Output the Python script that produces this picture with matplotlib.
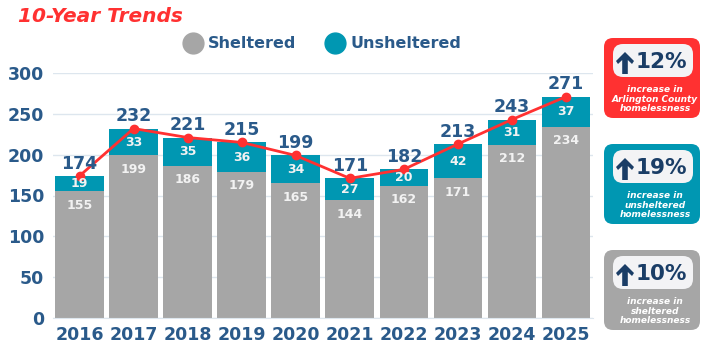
import matplotlib
matplotlib.use("Agg")
import matplotlib.pyplot as plt
from matplotlib.patches import FancyBboxPatch, Polygon
from matplotlib.lines import Line2D
import matplotlib.transforms as mtransforms
import numpy as np

years = ["2016", "2017", "2018", "2019", "2020", "2021", "2022", "2023", "2024", "2025"]
sheltered = [155, 199, 186, 179, 165, 144, 162, 171, 212, 234]
unsheltered = [19, 33, 35, 36, 34, 27, 20, 42, 31, 37]
totals = [174, 232, 221, 215, 199, 171, 182, 213, 243, 271]
yticks = [0, 50, 100, 150, 200, 250, 300]
callouts = [("12%", "increase in\nArlington County\nhomelessness"),
            ("19%", "increase in\nunsheltered\nhomelessness"),
            ("10%", "increase in\nsheltered\nhomelessness")]

GRAY = "#a6a6a6"
TEAL = "#0097b2"
RED = "#ff3131"
NAVY = "#2a5a8a"
DARK = "#1a3d66"

W, H = 709, 356
fig = plt.figure(figsize=(W / 100, H / 100), dpi=100)
ax = fig.add_axes([52.5 / W, 1 - 318 / H, (593 - 52.5) / W, (318 - 73) / H])

# pixel transform (origin top-left)
pix = mtransforms.Affine2D().scale(1, -1).translate(0, H).scale(1 / 100) + fig.dpi_scale_trans

x = np.arange(len(years))
ax.bar(x, sheltered, width=0.9, color=GRAY, zorder=2)
ax.bar(x, unsheltered, width=0.9, bottom=sheltered, color=TEAL, zorder=2)
ax.plot(x, totals, color=RED, lw=2, marker="o", ms=6, zorder=4)

for i in range(len(years)):
    ax.text(x[i], sheltered[i] - 9, str(sheltered[i]), ha="center", va="top",
            color="#f2f2f2", fontsize=9, fontweight="bold", zorder=5)
    ax.text(x[i], sheltered[i] + unsheltered[i] / 2, str(unsheltered[i]), ha="center",
            va="center", color="#f2f2f2", fontsize=9, fontweight="bold", zorder=5)
    ax.text(x[i], totals[i] + 4, str(totals[i]), ha="center", va="bottom",
            color=NAVY, fontsize=12.5, fontweight="bold", zorder=5, clip_on=False)

ax.set_xlim(-0.5, len(years) - 0.5)
ax.set_ylim(0, 300)
ax.set_yticks(yticks)
ax.set_xticks(x)
ax.set_xticklabels(years)
ax.tick_params(axis="both", length=0, labelsize=12.5, labelcolor=NAVY, pad=6)
for lbl in ax.get_xticklabels() + ax.get_yticklabels():
    lbl.set_fontweight("bold")
ax.yaxis.grid(True, color="#dde6ee", lw=1, zorder=0)
for s in ["top", "right", "left"]:
    ax.spines[s].set_visible(False)
ax.spines["bottom"].set_color("#dde6ee")

# title
fig.text(18 / W, 1 - 17 / H, "10-Year Trends", color=RED, fontsize=14.5,
         fontweight="bold", style="italic", va="center", ha="left")

# legend
for cx, col, lab in [(193, GRAY, "Sheltered"), (335, TEAL, "Unsheltered")]:
    fig.lines.append(Line2D([cx], [43], transform=pix, marker="o", ms=15, color=col, ls="none"))
    fig.text((cx + 15) / W, 1 - 43 / H, lab, color=NAVY, fontsize=11.5,
             fontweight="bold", va="center", ha="left")

# callout boxes
box_cols = [RED, TEAL, GRAY]
tops = [38, 144, 250]
for (pct, desc), col, top in zip(callouts, box_cols, tops):
    bx, bw, bh = 604, 96, 80
    fig.patches.append(FancyBboxPatch((bx, top), bw, bh,
                                      boxstyle="round,pad=0,rounding_size=9",
                                      transform=pix, fc=col, ec="none"))
    ix, iw, ih = 613, 80, 33
    fig.patches.append(FancyBboxPatch((ix, top + 6), iw, ih,
                                      boxstyle="round,pad=0,rounding_size=10",
                                      transform=pix, fc="#f3f3f5", ec="none"))
    # arrow
    ac = 625
    ytop = top + 14
    ybot = top + 36
    pts = [(ac, ytop), (ac + 9, ytop + 9), (ac + 7, ytop + 12),
           (ac + 2.8, ytop + 8), (ac + 2.8, ybot), (ac - 2.8, ybot),
           (ac - 2.8, ytop + 8), (ac - 7, ytop + 12), (ac - 9, ytop + 9)]
    fig.patches.append(Polygon(pts, closed=True, transform=pix, fc=DARK, ec="none"))
    fig.text(661 / W, 1 - (top + 24) / H, pct, color=DARK, fontsize=15.5,
             fontweight="bold", va="center", ha="center",
             family=["Liberation Sans Narrow", "DejaVu Sans"])
    fig.text(655 / W, 1 - (top + 61) / H, desc, color="white", fontsize=6.5,
             fontweight="bold", style="italic", va="center", ha="center", linespacing=1.05)

fig.savefig("out.png", dpi=100)
